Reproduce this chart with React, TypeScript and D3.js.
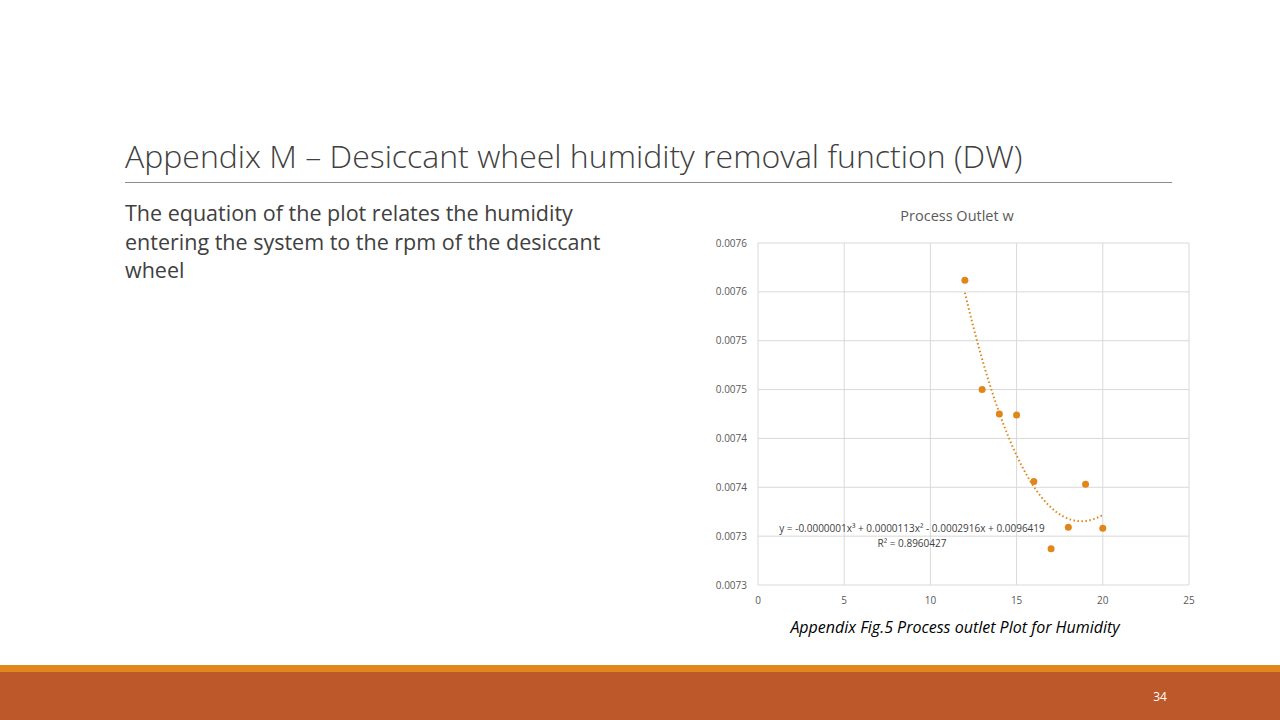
import React from "react";
import * as d3 from "d3";

const rpm = [12, 13, 14, 15, 16, 17, 18, 19, 20];
const outletW = [0.007562, 0.00745, 0.007425, 0.007424, 0.007356, 0.007287, 0.007309, 0.007353, 0.007308];
const yTicks = [0.00725, 0.0073, 0.00735, 0.0074, 0.00745, 0.0075, 0.00755, 0.0076];
const yTickLabels = ["0.0073", "0.0073", "0.0074", "0.0074", "0.0075", "0.0075", "0.0076", "0.0076"];
const xTicks = [0, 5, 10, 15, 20, 25];

// least-squares cubic for the trendline
function cubicFit(xs: number[], ys: number[]) {
  const n = 4;
  const A = Array.from({ length: n }, () => new Array(n + 1).fill(0));
  xs.forEach((x, k) => {
    for (let i = 0; i < n; i++) {
      for (let j = 0; j < n; j++) A[i][j] += Math.pow(x, i + j);
      A[i][n] += ys[k] * Math.pow(x, i);
    }
  });
  for (let i = 0; i < n; i++) {
    let p = i;
    for (let r = i + 1; r < n; r++) if (Math.abs(A[r][i]) > Math.abs(A[p][i])) p = r;
    [A[i], A[p]] = [A[p], A[i]];
    for (let r = 0; r < n; r++) {
      if (r === i) continue;
      const f = A[r][i] / A[i][i];
      for (let c = i; c <= n; c++) A[r][c] -= f * A[i][c];
    }
  }
  const c = A.map((row, i) => row[n] / row[i]);
  return (x: number) => c[0] + c[1] * x + c[2] * x * x + c[3] * x * x * x;
}

export default function App() {
  const x = d3.scaleLinear().domain([0, 25]).range([758, 1189]);
  const y = d3.scaleLinear().domain([0.00725, 0.0076]).range([585, 243]);
  const f = cubicFit(rpm, outletW);
  const trend = d3.range(12, 20.001, 0.1).map((v) => [v, f(v)] as [number, number]);
  const line = d3.line<[number, number]>().x((d) => x(d[0])).y((d) => y(d[1])).curve(d3.curveMonotoneX);
  const font = "'Open Sans', 'Noto Sans', sans-serif";

  return (
    <svg width={1280} height={720} style={{ position: "absolute", left: 0, top: 0, background: "#fff" }} fontFamily={font}>
      <rect width={1280} height={720} fill="#fff" />
      <text x={125} y={168} fontSize={32} fill="#404040" fontWeight={300}>
        Appendix M – Desiccant wheel humidity removal function (DW)
      </text>
      <line x1={125} x2={1172} y1={182.5} y2={182.5} stroke="#8c8c8c" />
      {["The equation of the plot relates the humidity", "entering the system to the rpm of the desiccant", "wheel"].map((t, i) => (
        <text key={i} x={125} y={221 + i * 28.5} fontSize={21.5} fill="#404040">{t}</text>
      ))}

      <text x={957} y={221} fontSize={14.5} fill="#595959" textAnchor="middle">Process Outlet w</text>
      {yTicks.map((t, i) => (
        <g key={i}>
          <line x1={758} x2={1189} y1={y(t)} y2={y(t)} stroke="#d9d9d9" />
          <text x={747} y={y(t) + 3.5} fontSize={10} fill="#595959" textAnchor="end">{yTickLabels[i]}</text>
        </g>
      ))}
      {xTicks.map((t) => (
        <g key={t}>
          <line x1={x(t)} x2={x(t)} y1={243} y2={585} stroke="#d9d9d9" />
          <text x={x(t)} y={604} fontSize={10} fill="#595959" textAnchor="middle">{t}</text>
        </g>
      ))}
      <path d={line(trend) || ""} fill="none" stroke="#E0861B" strokeWidth={2} strokeDasharray="1.5 2.5" />
      {rpm.map((r, i) => (
        <circle key={r} cx={x(r)} cy={y(outletW[i])} r={3.5} fill="#E0861B" />
      ))}
      <text x={912} y={532} fontSize={10} fill="#404040" textAnchor="middle">
        y = -0.0000001x³ + 0.0000113x² - 0.0002916x + 0.0096419
      </text>
      <text x={912} y={547} fontSize={10} fill="#404040" textAnchor="middle">R² = 0.8960427</text>

      <text x={955} y={633} fontSize={16} fontStyle="italic" fill="#000" textAnchor="middle">
        Appendix Fig.5 Process outlet Plot for Humidity
      </text>

      <rect x={0} y={665} width={1280} height={7} fill="#E0861B" />
      <rect x={0} y={672} width={1280} height={48} fill="#BC5829" />
      <text x={1160} y={701} fontSize={12} fill="#fff" textAnchor="middle">34</text>
    </svg>
  );
}
